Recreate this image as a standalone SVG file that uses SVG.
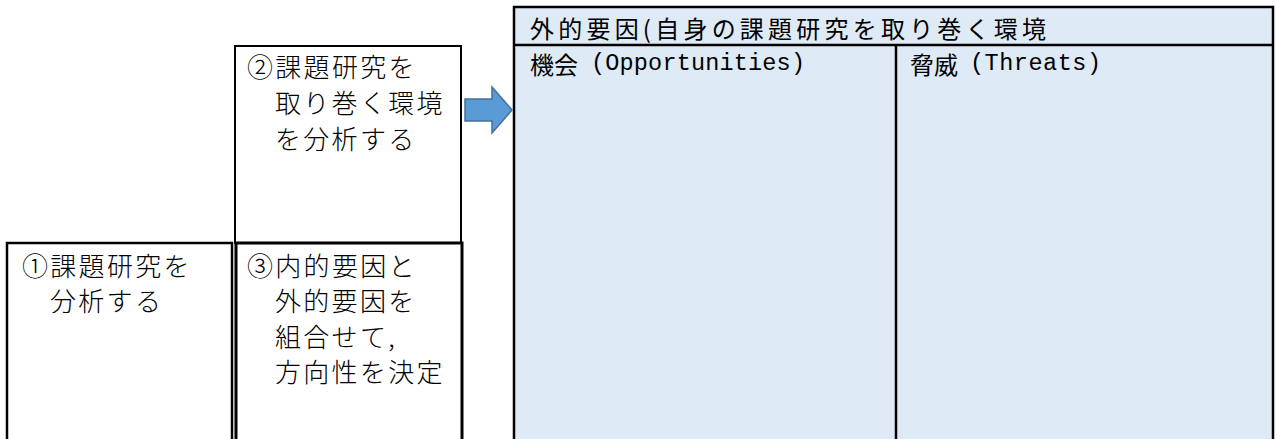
<svg xmlns="http://www.w3.org/2000/svg" width="1276" height="439" viewBox="0 0 1276 439">
  <style>
    .box { fill: #ffffff; stroke: #000000; stroke-width: 2; }
    .tbl { fill: #DEEAF6; stroke: #000000; stroke-width: 2.5; }
    .ln { stroke: #000000; stroke-width: 2.5; }
    .jp { font-family: "Noto Sans CJK JP", "Noto Sans", sans-serif; font-size: 26px; font-weight: 300; letter-spacing: 2.3px; fill: #000000; dominant-baseline: central; }
    .hd { font-family: "Noto Sans CJK JP", "Noto Sans", sans-serif; font-size: 24px; font-weight: 400; fill: #000000; dominant-baseline: central; }
    .mono { font-family: "Liberation Mono", monospace; font-size: 23.5px; }
    .arrow { fill: #5B9BD5; stroke: #41719C; stroke-width: 1.5; }
  </style>
  <rect width="1276" height="439" fill="#ffffff"/>

  <g id="external-table">
    <rect class="tbl" x="514" y="7" width="759" height="440"/>
    <line class="ln" x1="514" y1="45" x2="1273" y2="45"/>
    <line class="ln" x1="896" y1="45" x2="896" y2="445"/>
    <text class="hd" x="530" y="27" textLength="516" lengthAdjust="spacing">外的要因(自身の課題研究を取り巻く環境</text>
  </g>

  <g id="opportunities">
    <text class="hd" x="530" y="63">機会<tspan class="mono" x="591" textLength="214" lengthAdjust="spacing">(Opportunities)</tspan></text>
  </g>

  <g id="threats">
    <text class="hd" x="910" y="63">脅威<tspan class="mono" x="970" textLength="131" lengthAdjust="spacing">(Threats)</tspan></text>
  </g>

  <g id="step2">
    <rect class="box" x="235" y="46" width="226" height="197"/>
    <text class="jp" x="247" y="65">②課題研究を</text>
    <text class="jp" x="275" y="101">取り巻く環境</text>
    <text class="jp" x="275" y="137">を分析する</text>
  </g>

  <g id="step1">
    <rect class="box" x="7" y="243" width="225" height="210" style="stroke-width:2.5"/>
    <text class="jp" x="22" y="264">①課題研究を</text>
    <text class="jp" x="50" y="299">分析する</text>
  </g>

  <g id="step3">
    <rect class="box" x="236" y="243" width="226" height="210" style="stroke-width:3"/>
    <text class="jp" x="247" y="264">③内的要因と</text>
    <text class="jp" x="275" y="299">外的要因を</text>
    <text class="jp" x="275" y="335">組合せて,</text>
    <text class="jp" x="275" y="370">方向性を決定</text>
  </g>

  <g id="connectors">
    <path class="arrow" d="M465,99 L492,99 L492,87 L512,110 L492,133 L492,121 L465,121 Z"/>
  </g>
</svg>
